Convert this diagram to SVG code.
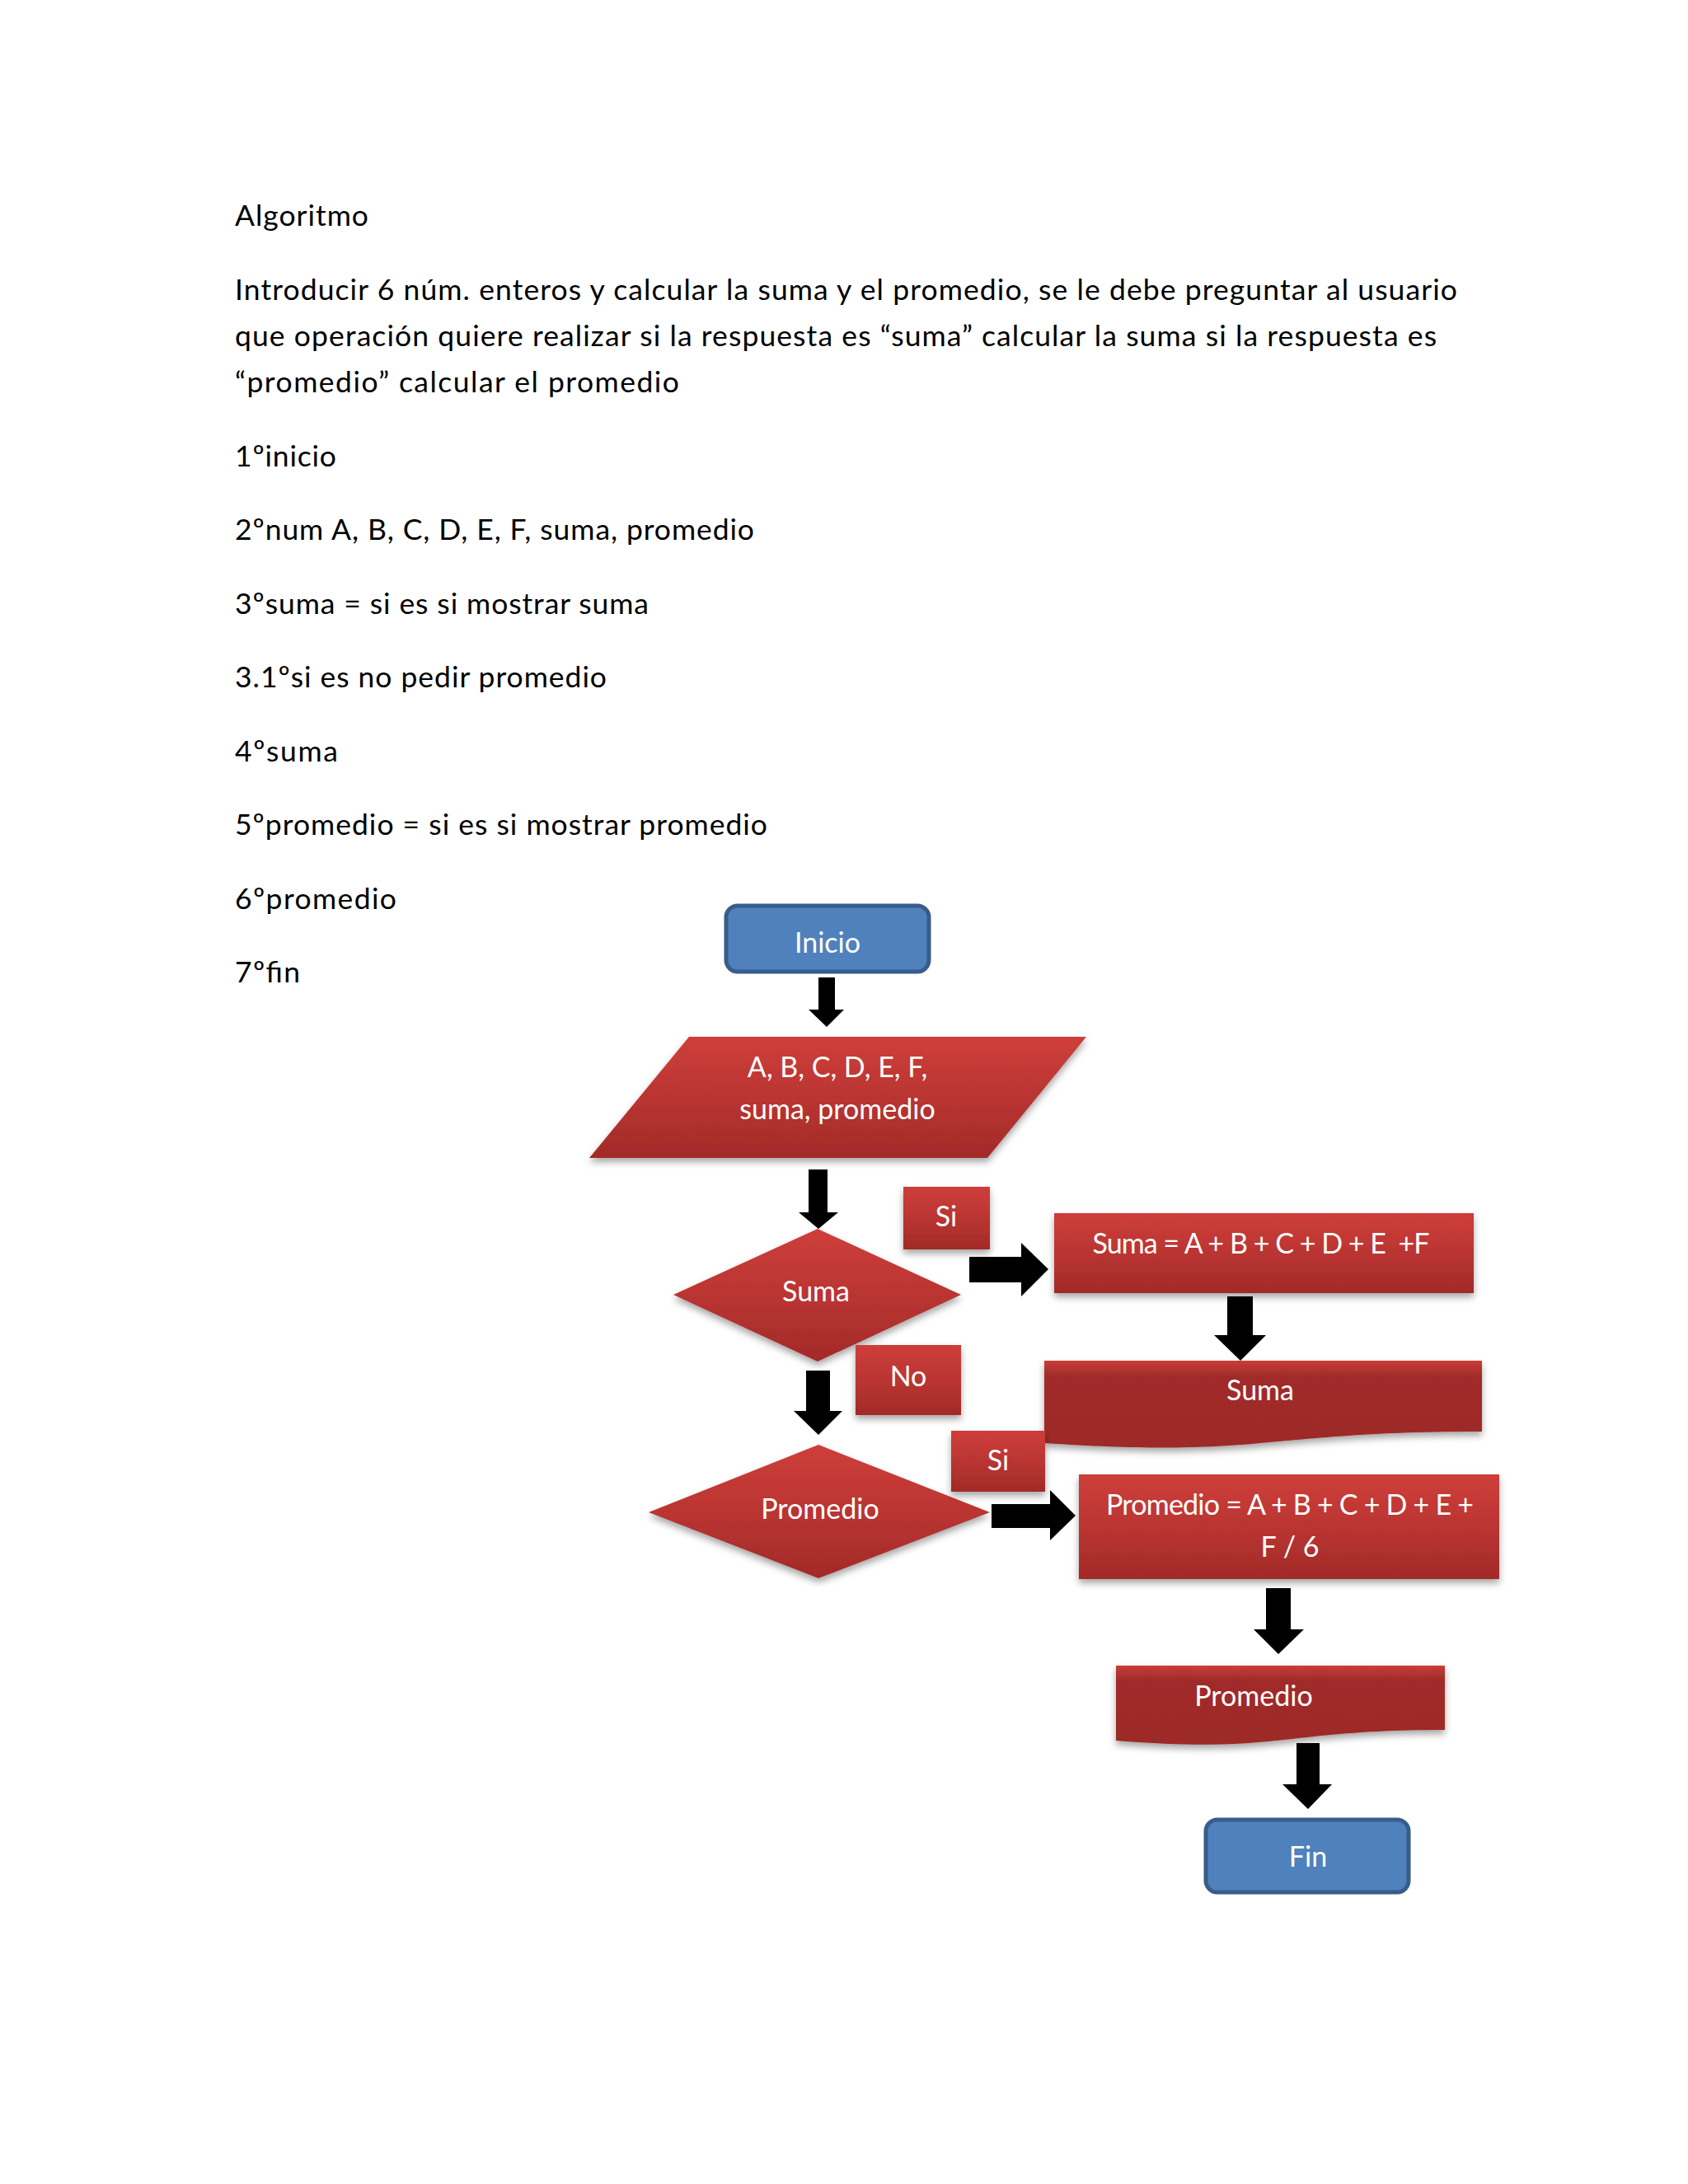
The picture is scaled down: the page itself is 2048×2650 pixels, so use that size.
<svg xmlns="http://www.w3.org/2000/svg" width="2048" height="2650" viewBox="0 0 2048 2650">
<defs>
<linearGradient id="red" x1="0" y1="0" x2="0" y2="1">
<stop offset="0" stop-color="#CE3E3A"/>
<stop offset="0.5" stop-color="#BA3532"/>
<stop offset="1" stop-color="#A22A28"/>
</linearGradient>
<linearGradient id="doc" x1="0" y1="0" x2="0" y2="1">
<stop offset="0" stop-color="#CA3D38"/>
<stop offset="0.18" stop-color="#A12C29"/>
<stop offset="1" stop-color="#9C2A28"/>
</linearGradient>
<filter id="sh" x="-10%" y="-10%" width="120%" height="130%">
<feDropShadow dx="0" dy="5" stdDeviation="4" flood-color="#000" flood-opacity="0.35"/>
</filter>
</defs>
<style>
.body{font-family:Lato,"Open Sans","Liberation Sans",sans-serif;font-size:35.5px;fill:#000}
.lbl{font-family:Lato,"Open Sans","Liberation Sans",sans-serif;font-size:34px;fill:#fff;text-anchor:middle;white-space:pre}
.term{fill:#4F81BD;stroke:#385D8A;stroke-width:5}
.red{fill:url(#red);filter:url(#sh)}
.docs{fill:url(#doc);filter:url(#sh)}
.arr{fill:#000}
</style>
<rect width="2048" height="2650" fill="#fff"/>
<g id="texto">
<text class="body" x="285" y="274" textLength="162">Algoritmo</text>
<text class="body" x="285" y="364" textLength="1483">Introducir 6 núm. enteros y calcular la suma y el promedio, se le debe preguntar al usuario</text>
<text class="body" x="285" y="420" textLength="1458">que operación quiere realizar si la respuesta es “suma” calcular la suma si la respuesta es</text>
<text class="body" x="285" y="476" textLength="539">“promedio” calcular el promedio</text>
<text class="body" x="285" y="566" textLength="123">1ºinicio</text>
<text class="body" x="285" y="655" textLength="630">2ºnum A, B, C, D, E, F, suma, promedio</text>
<text class="body" x="285" y="745" textLength="502">3ºsuma = si es si mostrar suma</text>
<text class="body" x="285" y="834" textLength="451">3.1ºsi es no pedir promedio</text>
<text class="body" x="285" y="924" textLength="125">4ºsuma</text>
<text class="body" x="285" y="1013" textLength="646">5ºpromedio = si es si mostrar promedio</text>
<text class="body" x="285" y="1103" textLength="196">6ºpromedio</text>
<text class="body" x="285" y="1192" textLength="79">7ºfin</text>
</g>
<g id="conectores">
<polygon class="arr" points="993,1186 1013,1186 1013,1225 1024,1225 1003,1246 981,1225 993,1225"/>
<polygon class="arr" points="981,1419 1004,1419 1004,1471 1017,1471 993,1491 969,1471 981,1471"/>
<polygon class="arr" points="1176,1525 1239,1525 1239,1508 1272,1540 1239,1573 1239,1556 1176,1556"/>
<polygon class="arr" points="1489,1573 1520,1573 1520,1620 1536,1620 1505,1651 1473,1620 1489,1620"/>
<polygon class="arr" points="978,1663 1007,1663 1007,1712 1022,1712 993,1741 963,1712 978,1712"/>
<polygon class="arr" points="1203,1825 1274,1825 1274,1808 1305,1839 1274,1869 1274,1854 1203,1854"/>
<polygon class="arr" points="1536,1927 1566,1927 1566,1977 1582,1977 1551,2007 1521,1977 1536,1977"/>
<polygon class="arr" points="1573,2115 1601,2115 1601,2165 1616,2165 1587,2195 1556,2165 1573,2165"/>
</g>
<g id="inicio">
<rect class="term" x="881" y="1099" width="246" height="80" rx="14"/>
<text class="lbl" x="1004" y="1156">Inicio</text>
</g>
<g id="entrada">
<polygon class="red" points="836,1258 1318,1258 1198,1405 715,1405"/>
<text class="lbl" x="1016" y="1307">A, B, C, D, E, F,</text>
<text class="lbl" x="1016" y="1358">suma, promedio</text>
</g>
<g id="decision-suma">
<polygon class="red" points="992,1491 1166,1571 992,1652 817,1571"/>
<text class="lbl" x="990" y="1579">Suma</text>
</g>
<g id="si-1">
<rect class="red" x="1096" y="1440" width="105" height="76"/>
<text class="lbl" x="1148" y="1488">Si</text>
</g>
<g id="proceso-suma">
<rect class="red" x="1279" y="1472" width="509" height="97"/>
<text class="lbl" x="1530" y="1521" textLength="409">Suma = A + B + C + D + E  +F</text>
</g>
<g id="doc-suma">
<path class="docs" d="M1267,1651 L1798,1651 L1798,1737 C1532,1737 1532,1769 1267,1751 Z"/>
<text class="lbl" x="1529" y="1699">Suma</text>
</g>
<g id="no">
<rect class="red" x="1038" y="1632" width="128" height="85"/>
<text class="lbl" x="1102" y="1682">No</text>
</g>
<g id="decision-promedio">
<polygon class="red" points="993,1753 1201,1835 993,1915 787,1835"/>
<text class="lbl" x="995" y="1843">Promedio</text>
</g>
<g id="si-2">
<rect class="red" x="1154" y="1736" width="114" height="74"/>
<text class="lbl" x="1211" y="1784">Si</text>
</g>
<g id="proceso-promedio">
<rect class="red" x="1309" y="1789" width="510" height="127"/>
<text class="lbl" x="1565" y="1838" textLength="446">Promedio = A + B + C + D + E +</text>
<text class="lbl" x="1565" y="1889">F / 6</text>
</g>
<g id="doc-promedio">
<path class="docs" d="M1354,2021 L1753,2021 L1753,2099 C1553,2099 1553,2128 1354,2112 Z"/>
<text class="lbl" x="1521" y="2070">Promedio</text>
</g>
<g id="fin">
<rect class="term" x="1463" y="2208" width="246" height="88" rx="14"/>
<text class="lbl" x="1587" y="2265">Fin</text>
</g>
</svg>
